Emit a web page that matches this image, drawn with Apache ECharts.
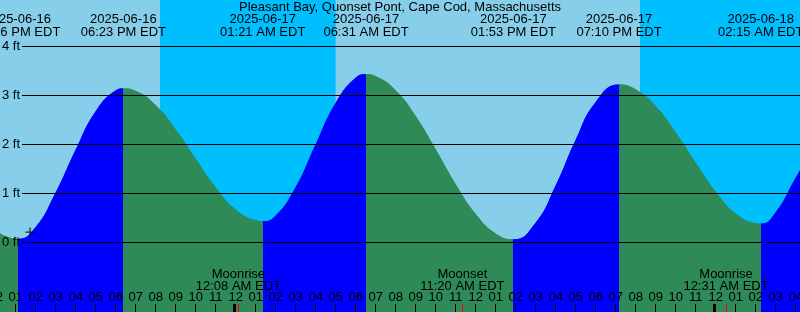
<!DOCTYPE html>
<html><head><meta charset="utf-8">
<script src="https://cdn.jsdelivr.net/npm/echarts@6/dist/echarts.min.js"></script>
<style>html,body{margin:0;padding:0;background:#87CEEB}#c{width:800px;height:312px}</style>
</head><body><div id="c"></div>
<script>
// ---- data (hours counted from 2025-06-16 12:00 EDT) ----
const chartTitle = 'Pleasant Bay, Quonset Pont, Cape Cod, Massachusetts';
const tideHours = [0, 1.1, 2, 3, 4, 5, 6, 6.383, 7, 8, 9, 10, 11, 12, 13, 13.35, 14, 15, 16, 17, 18, 18.517, 19, 20, 21, 22, 23, 24, 25, 25.883, 27, 28, 29, 30, 31.167, 32, 33, 34, 35, 36, 37, 38, 38.25, 39, 40, 41];
const tideFeet  = [0.22, 0.06, 0.3, 1.0, 1.87, 2.66, 3.09, 3.13, 3.08, 2.79, 2.29, 1.69, 1.11, 0.66, 0.44, 0.42, 0.535, 1.11, 1.98, 2.83, 3.35, 3.42, 3.38, 3.09, 2.56, 1.88, 1.17, 0.565, 0.17, 0.05, 0.39, 1.14, 2.07, 2.85, 3.21, 3.11, 2.77, 2.23, 1.61, 1.02, 0.58, 0.38, 0.37, 0.6, 1.3, 2.0];
const extremeHours = [1.1, 6.383, 13.35, 18.517, 25.883, 31.167, 38.25];
const extremeDates = ['2025-06-16', '2025-06-16', '2025-06-17', '2025-06-17', '2025-06-17', '2025-06-17', '2025-06-18'];
const extremeTimes = ['01:06 PM EDT', '06:23 PM EDT', '01:21 AM EDT', '06:31 AM EDT', '01:53 PM EDT', '07:10 PM EDT', '02:15 AM EDT'];
const nightStart = [8.215, 32.215];
const nightEnd = [16.995, 41];
const moonHours = [12.133, 23.333, 36.517];
const moonNames = ['Moonrise', 'Moonset', 'Moonrise'];
const moonTimes = ['12:08 AM EDT', '11:20 AM EDT', '12:31 AM EDT'];
const midnightHours = [12, 36];
const feetLevels = [0, 1, 2, 3, 4];
const nowMark = [1.715, 0.21];

// ---- styling ----
const DAY = '#87CEEB', NIGHT = '#00BFFF', RISE = '#0000FF', FALL = '#2E8B57';
const FF = 'Liberation Sans';
const FONT = '13px "Liberation Sans"';

const pieces = [];
let prev = -Infinity;
extremeHours.forEach((h, i) => {
  pieces.push({ gte: prev, lt: h, color: i % 2 === 0 ? FALL : RISE });
  prev = h;
});
pieces.push({ gte: prev, lt: Infinity, color: extremeHours.length % 2 === 0 ? FALL : RISE });

const chart = echarts.init(document.getElementById('c'), null, { renderer: 'canvas' });
const option = {
  animation: false,
  grid: { left: -4.3, right: 0, top: 0, bottom: 0, show: true, backgroundColor: DAY, borderWidth: 0,
          containLabel: false, outerBoundsMode: 'none' },
  xAxis: {
    type: 'value', min: 0, max: 40.215, interval: 1, z: 20,
    axisLine: { show: false, onZero: false },
    splitLine: { show: false },
    axisTick: { inside: true, length: 8, lineStyle: { color: '#000', width: 1 } },
    axisLabel: {
      inside: true, margin: 14.8, color: '#000', fontFamily: FF, fontSize: 13,
      verticalAlign: 'middle', showMinLabel: true, showMaxLabel: false, hideOverlap: false,
      formatter: v => {
        if (Math.abs(v - Math.round(v)) > 1e-6) return '';
        const m = Math.round(v) % 12;
        const hr = m === 0 ? 12 : m;
        return (hr < 10 ? '0' : '') + hr;
      }
    }
  },
  yAxis: { type: 'value', min: -1.4224, max: 4.9449, show: false },
  visualMap: { type: 'piecewise', show: false, dimension: 0, seriesIndex: 1, pieces: pieces },
  series: [
    {
      type: 'line', data: [], z: 1, silent: true,
      markArea: {
        silent: true, itemStyle: { color: NIGHT },
        data: nightStart.map((s, i) => [{ xAxis: s }, { xAxis: nightEnd[i] }])
      }
    },
    {
      type: 'line', z: 3, silent: true, smooth: 0.5, showSymbol: false,
      data: tideHours.map((h, i) => [h, tideFeet[i]]),
      lineStyle: { width: 1 },
      areaStyle: { opacity: 1, origin: 'start' }
    },
    {
      type: 'scatter', z: 6, silent: true, data: [nowMark],
      symbol: 'path://M0,4h9v1.2H0z M4,0h1.2v9H4z', symbolSize: 9,
      itemStyle: { color: '#000' }
    }
  ]
};
chart.setOption(option);

const X = h => chart.convertToPixel({ xAxisIndex: 0 }, h);
const Y = v => chart.convertToPixel({ yAxisIndex: 0 }, v);
const g = [];
function txt(x, y, s, align) {
  g.push({ type: 'text', z: 100, silent: true,
    style: { text: s, x: x, y: y, fill: '#000', font: FONT,
      textAlign: align || 'center', align: align || 'center',
      textVerticalAlign: 'middle', verticalAlign: 'middle' } });
}
txt(400, 7.5, chartTitle);
extremeHours.forEach((h, i) => {
  const x = X(h);
  txt(x, 19.7, extremeDates[i]);
  txt(x, 32, extremeTimes[i]);
});
feetLevels.forEach(v => {
  const y = Math.floor(Y(v)) + 0.5;
  g.push({ type: 'line', z: 100, silent: true, shape: { x1: 22, y1: y, x2: 800, y2: y }, style: { stroke: '#000', lineWidth: 1 } });
  txt(20, Y(v) + 0.2, v + ' ft', 'right');
});
moonHours.forEach((h, i) => {
  const x = X(h);
  txt(x, 274.2, moonNames[i]);
  txt(x, 286, moonTimes[i]);
  g.push({ type: 'rect', z: 100, silent: true, shape: { x: Math.round(x), y: 304, width: 1, height: 8 }, style: { fill: '#FF0000' } });
});
midnightHours.forEach(h => {
  const x = X(h);
  g.push({ type: 'rect', z: 100, silent: true, shape: { x: Math.round(x) - 3, y: 304, width: 3, height: 8 }, style: { fill: '#000' } });
});
chart.setOption({ graphic: g });
</script>
</body></html>
